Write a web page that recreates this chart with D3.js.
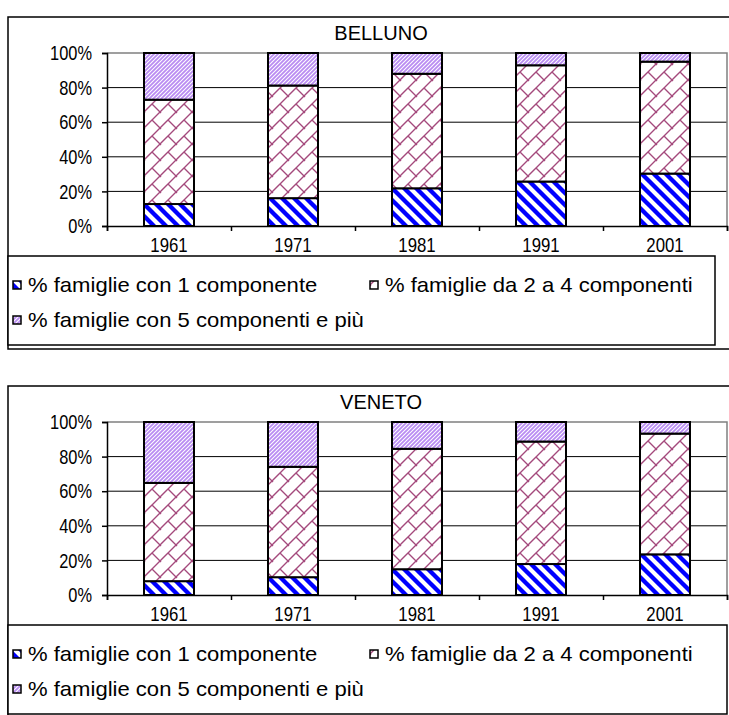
<!DOCTYPE html>
<html>
<head>
<meta charset="utf-8">
<script src="https://cdn.jsdelivr.net/npm/d3@7"></script>
<style>
  html, body { margin: 0; padding: 0; background: #fff; }
  svg { display: block; font-family: "Liberation Sans", Arial, sans-serif; }
</style>
</head>
<body>
<svg id="chart" width="729" height="715"></svg>
<script>
// Census years on the category axis
const years = ["1961", "1971", "1981", "1991", "2001"];
const seriesNames = [
  "% famiglie con 1 componente",
  "% famiglie da 2 a 4 componenti",
  "% famiglie con 5 componenti e più"
];
const seriesKeys = ["one", "mid", "five"];
const yTickValues = [0, 20, 40, 60, 80, 100];

// Belluno: share of households by size (%)
const bellunoOne  = [12.7, 16.1, 21.8, 25.7, 30.3];
const bellunoMid  = [60.3, 65.1, 66.2, 67.2, 64.7];
const bellunoFive = [27.0, 18.8, 12.0, 7.1, 5.0];

// Veneto: share of households by size (%)
const venetoOne  = [8.0, 10.3, 14.9, 17.9, 23.5];
const venetoMid  = [56.8, 63.8, 69.6, 70.8, 69.8];
const venetoFive = [35.2, 25.9, 15.5, 11.3, 6.7];

const svg = d3.select("#chart");
const defs = svg.append("defs");

// narrow the numeric labels horizontally
function squeeze(sel, factor) {
  sel.each(function () {
    const w = this.getComputedTextLength();
    d3.select(this).attr("textLength", w * factor).attr("lengthAdjust", "spacingAndGlyphs");
  });
}

// Hatch fills, one per series
function stripePattern(id, size, d, color, width) {
  const p = defs.append("pattern")
    .attr("id", id).attr("patternUnits", "userSpaceOnUse")
    .attr("width", size).attr("height", size);
  p.append("rect").attr("width", size).attr("height", size).attr("fill", "#fff");
  p.append("path").attr("d", d).attr("stroke", color)
    .attr("stroke-width", width).attr("fill", "none");
}
// wide downward diagonal, blue
stripePattern("pat-one", 12,
  "M-3,-3 L15,15 M-9,3 L3,15 M9,-3 L15,3 M3,-9 L15,3", "#0000ff", 4.3);
// light upward diagonal, lilac
stripePattern("pat-five", 4,
  "M-1,5 L5,-1 M-1,1 L1,-1 M3,5 L5,3", "#b98cf2", 1.8);
// diagonal brick, plum
(function () {
  const s = 16;
  const p = defs.append("pattern")
    .attr("id", "pat-mid").attr("patternUnits", "userSpaceOnUse")
    .attr("width", s).attr("height", s);
  p.append("rect").attr("width", s).attr("height", s).attr("fill", "#fff");
  p.append("path")
    .attr("d", `M-1,${s + 1} L${s + 1},-1 M${s / 2},${s / 2} L${s + 1},${s + 1} M-1,-1 L1,1`)
    .attr("stroke", "#a4497c").attr("stroke-width", 1.4).attr("fill", "none");
})();
const fills = { one: "url(#pat-one)", mid: "url(#pat-mid)", five: "url(#pat-five)" };

function drawPanel(title, one, mid, five, oy, legendRight) {
  const rows = years.map((y, i) => ({ year: y, one: one[i], mid: mid[i], five: five[i] }));
  const stacked = d3.stack().keys(seriesKeys)(rows);

  const g = svg.append("g").attr("transform", `translate(0,${oy})`);

  // outer chart frame
  g.append("rect").attr("x", 8).attr("y", 17).attr("width", 760).attr("height", 332)
    .attr("fill", "#fff").attr("stroke", "#000").attr("stroke-width", 1.5);

  const left = 107, right = 727, top = 53, bottom = 226;
  const x = d3.scaleBand().domain(years).range([left, right]).paddingInner(0).paddingOuter(0);
  const xEdge = d3.scaleLinear().domain([0, years.length]).range([left, right]);
  const y = d3.scaleLinear().domain([0, 100]).range([bottom, top]);
  const barW = 50;

  // title
  g.append("text").attr("x", 381).attr("y", 40).attr("text-anchor", "middle")
    .attr("font-size", 20).attr("fill", "#000").text(title);

  // horizontal gridlines
  g.append("g").selectAll("line").data(yTickValues.filter(v => v > 0 && v < 100)).join("line")
    .attr("x1", left).attr("x2", right)
    .attr("y1", d => y(d)).attr("y2", d => y(d))
    .attr("stroke", "#000").attr("stroke-width", 1);
  // plot area border (top and right)
  g.append("path")
    .attr("d", `M${left},${y(100)} H${right} V${y(0)}`)
    .attr("fill", "none").attr("stroke", "#808080").attr("stroke-width", 1.5);

  // stacked bars
  const layer = g.append("g").selectAll("g").data(stacked).join("g")
    .attr("fill", d => fills[d.key]);
  layer.selectAll("rect").data(d => d).join("rect")
    .attr("x", d => x(d.data.year) + (x.bandwidth() - barW) / 2)
    .attr("width", barW)
    .attr("y", d => y(d[1]))
    .attr("height", d => y(d[0]) - y(d[1]))
    .attr("stroke", "#000").attr("stroke-width", 2);

  // value axis
  const yAxis = g.append("g").attr("transform", `translate(${left},0)`)
    .call(d3.axisLeft(y).tickValues(yTickValues).tickFormat(d => d + "%").tickSize(5).tickPadding(10));
  yAxis.select(".domain").attr("stroke", "#000").attr("stroke-width", 1.5);
  yAxis.selectAll(".tick line").attr("stroke", "#000").attr("stroke-width", 1.5);
  yAxis.selectAll(".tick text").attr("font-size", 21).attr("font-family", "Liberation Sans, Arial, sans-serif")
    .attr("fill", "#000").call(squeeze, 0.78);

  // category axis: ticks between categories, labels centred
  const xAxis = g.append("g").attr("transform", `translate(0,${bottom})`)
    .call(d3.axisBottom(xEdge).tickValues(d3.range(years.length + 1)).tickFormat("").tickSize(5));
  xAxis.select(".domain").attr("stroke", "#000").attr("stroke-width", 1.5);
  xAxis.selectAll(".tick line").attr("stroke", "#000").attr("stroke-width", 1.5);
  const xLabels = g.append("g").attr("transform", `translate(0,${bottom})`)
    .call(d3.axisBottom(x).tickSize(0).tickPadding(11));
  xLabels.select(".domain").remove();
  xLabels.selectAll(".tick text").attr("font-size", 21).attr("font-family", "Liberation Sans, Arial, sans-serif")
    .attr("fill", "#000").call(squeeze, 0.8);

  // legend
  const lg = g.append("g");
  lg.append("rect").attr("x", 8).attr("y", 256).attr("width", legendRight - 8).attr("height", 89)
    .attr("fill", "#fff").attr("stroke", "#000").attr("stroke-width", 1.5);
  const items = [
    { key: "one", name: seriesNames[0], x: 13, y: 285 },
    { key: "mid", name: seriesNames[1], x: 370, y: 285 },
    { key: "five", name: seriesNames[2], x: 13, y: 320 }
  ];
  const it = lg.selectAll("g.item").data(items).join("g").attr("class", "item")
    .attr("transform", d => `translate(${d.x},${d.y})`);
  it.append("rect").attr("x", 0).attr("y", -4).attr("width", 8).attr("height", 8)
    .attr("fill", d => fills[d.key]).attr("stroke", "#000").attr("stroke-width", 1.5);
  it.append("text").attr("x", 15).attr("y", 7).attr("font-size", 21).attr("fill", "#000")
    .text(d => d.name).call(squeeze, 1.05);
}

drawPanel("BELLUNO", bellunoOne, bellunoMid, bellunoFive, 0, 715);
drawPanel("VENETO", venetoOne, venetoMid, venetoFive, 369, 727);
</script>
</body>
</html>
